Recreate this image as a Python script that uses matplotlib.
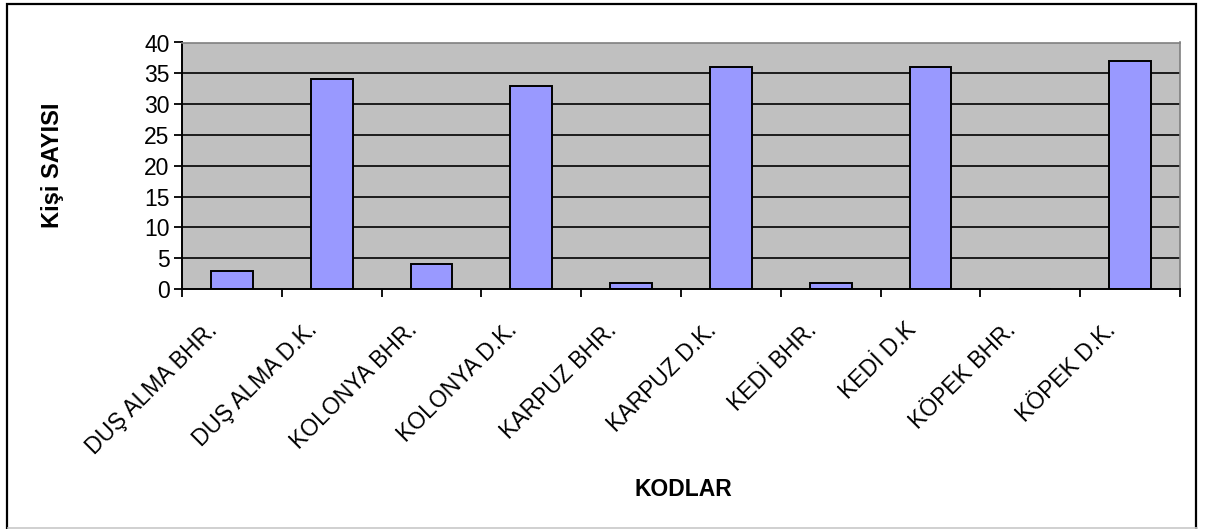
import numpy as np
import matplotlib
matplotlib.use("Agg")
import matplotlib.pyplot as plt
from matplotlib.patches import Rectangle
from matplotlib.lines import Line2D
from matplotlib.transforms import ScaledTranslation

categories = ["DUŞ ALMA BHR.", "DUŞ ALMA D.K.", "KOLONYA BHR.", "KOLONYA D.K.",
              "KARPUZ BHR.", "KARPUZ D.K.", "KEDİ BHR.", "KEDİ D.K",
              "KÖPEK BHR.", "KÖPEK D.K."]
counts = [3, 34, 4, 33, 1, 36, 1, 36, 0, 37]
yticks = [0, 5, 10, 15, 20, 25, 30, 35, 40]

plt.rcParams['font.family'] = ['Liberation Sans', 'DejaVu Sans']

W, H = 1205, 529
fig = plt.figure(figsize=(W / 100, H / 100), dpi=100)
ax = fig.add_axes([182 / W, 1 - 289 / H, (1180 - 182) / W, (289 - 42.5) / H])

ax.set_facecolor("#C0C0C0")
x = np.arange(len(categories))
for v in yticks[1:-1]:
    ax.axhline(v, color="black", lw=1.2, zorder=1)
ax.bar(x, counts, width=0.42, color="#9999FF", edgecolor="black", lw=1.4, zorder=2)

ax.set_xlim(-0.5, len(categories) - 0.5)
ax.set_ylim(0, 40)
ax.set_yticks(yticks)
ax.set_xticks(np.arange(-0.5, len(categories)), labels=[])
ax.set_xticks(x, labels=categories, minor=True)

ax.tick_params(axis="y", direction="out", length=6, width=1.3, labelsize=16.5, pad=3)
ax.tick_params(axis="x", which="major", direction="out", length=6, width=1.3)
ax.tick_params(axis="x", which="minor", length=0, pad=0, labelsize=16.5)

for sp in ["left", "bottom"]:
    ax.spines[sp].set_color("black")
    ax.spines[sp].set_linewidth(1.4)
for sp in ["top", "right"]:
    ax.spines[sp].set_color("#808080")
    ax.spines[sp].set_linewidth(1.2)

# rotated category labels, shifted like excel does
off = ScaledTranslation(-13 / 100, -42 / 100, fig.dpi_scale_trans)
for lab in ax.get_xticklabels(minor=True):
    lab.set_rotation(45)
    lab.set_rotation_mode("anchor")
    lab.set_ha("right")
    lab.set_va("baseline")
    lab.set_transform(lab.get_transform() + off)

fig.text(683 / W, 1 - 489 / H, "KODLAR", ha="center", va="center",
         fontsize=16.5, fontweight="bold")
fig.text(52 / W, 1 - 165 / H, "Kişi SAYISI", ha="center", va="center",
         rotation=90, fontsize=17, fontweight="bold")

# chart frame (bottom edge is cut off in the original)
fig.patches.append(Rectangle((7 / W, -0.02), (1196 - 7) / W, 1.02 - 4 / H,
                             transform=fig.transFigure, fill=False,
                             edgecolor="black", lw=1.6))
fig.lines.append(Line2D([8 / W, 1 - 8 / W], [0.7 / H, 0.7 / H],
                        transform=fig.transFigure, color="#C8C8C8", lw=1.2))

fig.savefig("out.png", dpi=100)
